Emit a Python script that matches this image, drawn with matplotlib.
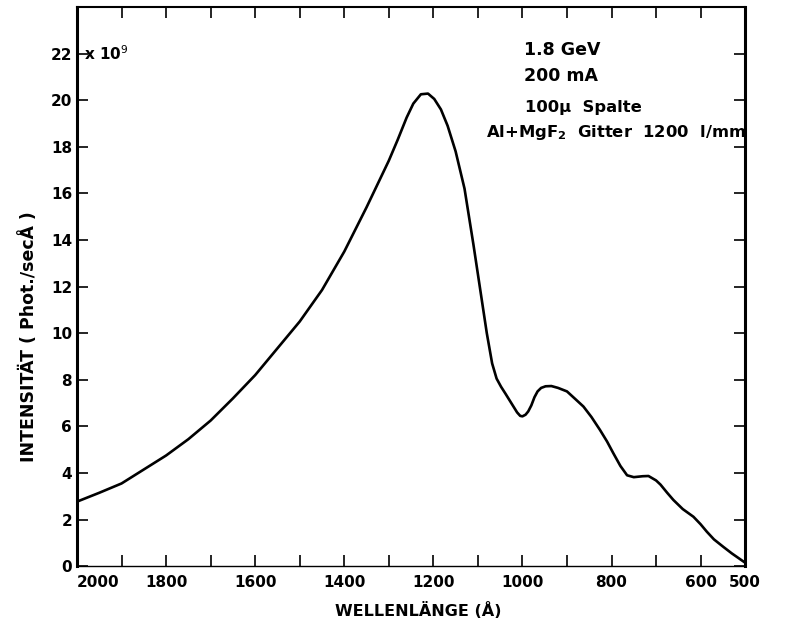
import matplotlib.pyplot as plt
from matplotlib.ticker import MultipleLocator

# Values (wavelength in Angstrom, intensity in 1e9 Phot./sec A)
wavelength = [2000, 1950, 1900, 1850, 1800, 1750, 1700, 1650, 1600, 1550,
              1500, 1450, 1400, 1350, 1300, 1280, 1260, 1245, 1228, 1212,
              1198, 1183, 1168, 1150, 1130, 1110, 1095, 1080, 1068, 1058,
              1048, 1038, 1025, 1012, 1005, 1000, 993, 987, 980, 973,
              966, 958, 948, 935, 920, 900, 880, 863, 845, 826,
              810, 796, 780, 765, 750, 730, 717, 700, 690, 675,
              661, 640, 616, 600, 586, 570, 549, 530, 515, 500]
intensity = [2.77, 3.15, 3.55, 4.15, 4.75, 5.45, 6.25, 7.2, 8.2, 9.35,
             10.5, 11.85, 13.5, 15.4, 17.4, 18.3, 19.25, 19.85, 20.25, 20.28,
             20.05, 19.6, 18.9, 17.8, 16.2, 13.8, 11.9, 10.0, 8.7, 8.05,
             7.7, 7.4, 7.0, 6.6, 6.45, 6.43, 6.5, 6.64, 6.9, 7.25,
             7.5, 7.65, 7.72, 7.73, 7.65, 7.5, 7.15, 6.85, 6.4, 5.85,
             5.35, 4.85, 4.3, 3.9, 3.82, 3.86, 3.87, 3.68, 3.5, 3.15,
             2.84, 2.45, 2.12, 1.8, 1.48, 1.15, 0.83, 0.55, 0.35, 0.15]

x_major = [2000, 1800, 1600, 1400, 1200, 1000, 800, 600, 500]
y_major = list(range(0, 23, 2))

plt.rcParams['font.family'] = ['DejaVu Sans']

fig = plt.figure(figsize=(7.86, 6.27), dpi=100)
ax = fig.add_axes([0.098, 0.097, 0.850, 0.892])

ax.plot(wavelength, intensity, color='black', linewidth=1.9,
        solid_joinstyle='round', solid_capstyle='round')

ax.set_xlim(2000, 500)
ax.set_ylim(0, 24)

ax.set_xticks(x_major)
ax.set_xticklabels([str(v) for v in x_major])
ax.xaxis.set_minor_locator(MultipleLocator(100))
ax.set_yticks(y_major)
ax.set_yticklabels([str(v) for v in y_major])

ax.tick_params(axis='both', which='both', direction='in', top=True, right=True,
               length=8, width=1.2, labelsize=11)
ax.tick_params(axis='x', pad=6)
for lab in ax.get_xticklabels() + ax.get_yticklabels():
    lab.set_fontweight('bold')
ax.get_xticklabels()[0].set_horizontalalignment('left')

for side in ['left', 'right']:
    ax.spines[side].set_linewidth(2.2)
ax.spines['top'].set_linewidth(1.5)
ax.spines['bottom'].set_linewidth(1.0)

ax.set_xlabel('WELLENLÄNGE (Å)', fontsize=11.5, fontweight='bold')
ax.xaxis.set_label_coords(0.511, -0.064)
ax.set_ylabel('INTENSITÄT ( Phot./secÅ )', fontsize=12.5, fontweight='bold')
ax.yaxis.set_label_coords(-0.058, 0.41)

ax.text(0.01, 0.917, r'x 10$^{9}$', transform=ax.transAxes, fontsize=11,
        fontweight='bold', va='center', ha='left')

ax.text(0.669, 0.923, '1.8 GeV', transform=ax.transAxes, fontsize=12.5,
        fontweight='bold', va='center', ha='left')
ax.text(0.669, 0.877, '200 mA', transform=ax.transAxes, fontsize=12.5,
        fontweight='bold', va='center', ha='left')
ax.text(0.670, 0.821, '100µ  Spalte', transform=ax.transAxes, fontsize=11.8,
        fontweight='bold', va='center', ha='left')
ax.text(0.612, 0.776, r'Al+MgF$_\mathbf{2}$  Gitter  1200  l/mm', transform=ax.transAxes,
        fontsize=11.8, fontweight='bold', va='center', ha='left')

fig.savefig('out.png', dpi=100)
